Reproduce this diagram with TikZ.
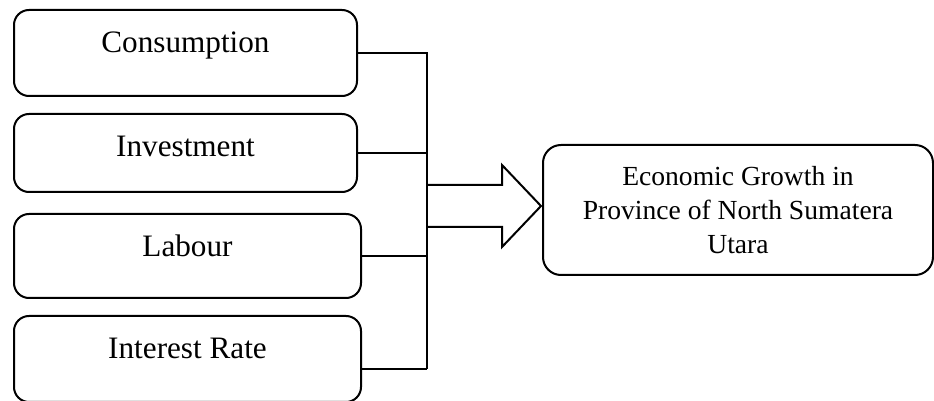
\documentclass[tikz,border=0pt]{standalone}
\usepackage{fontspec}
\setmainfont{Liberation Serif}
\usetikzlibrary{positioning}

\begin{document}
\begin{tikzpicture}[x=0.5pt,y=-0.5pt,line width=1pt,
    factor/.style={draw,rounded corners=7.5pt,anchor=north west,inner ysep=0pt,
      minimum width=171.5pt,text height=21.5pt,font=\fontsize{15.6pt}{18pt}\selectfont},
    result/.style={draw,rounded corners=9pt,align=center,minimum width=195pt,
      minimum height=65pt,font=\fontsize{13.8pt}{17pt}\selectfont}]
    \useasboundingbox (0,0) rectangle (934,401);
    \node[factor,text depth=21.5pt](cons) at (13,9){Consumption};
    \node[factor,text depth=17.5pt](inv) at (13,113){Investment};
    \node[factor,text depth=20.5pt,minimum width=173.5pt](lab) at (13,213){Labour};
    \node[factor,text depth=21.5pt,minimum width=173.5pt](rate) at (13,315){Interest Rate};
    \node[result](growth) at (738,210){Economic Growth in\\Province of North Sumatera\\Utara};
    % joining lines
    \coordinate (spinebot) at (427,369);
    \draw (cons.east) -| (spinebot);
    \draw (inv.east) -- (inv.east -| spinebot);
    \draw (lab.east) -- (lab.east -| spinebot);
    \draw (rate.east |- spinebot) -- (spinebot);
    % big arrow
    \draw[line join=miter] (427,185) -- (502,185) -- (502,165) -- (541,206)
      -- (502,247) -- (502,227) -- (427,227);
  \end{tikzpicture}
\end{document}
